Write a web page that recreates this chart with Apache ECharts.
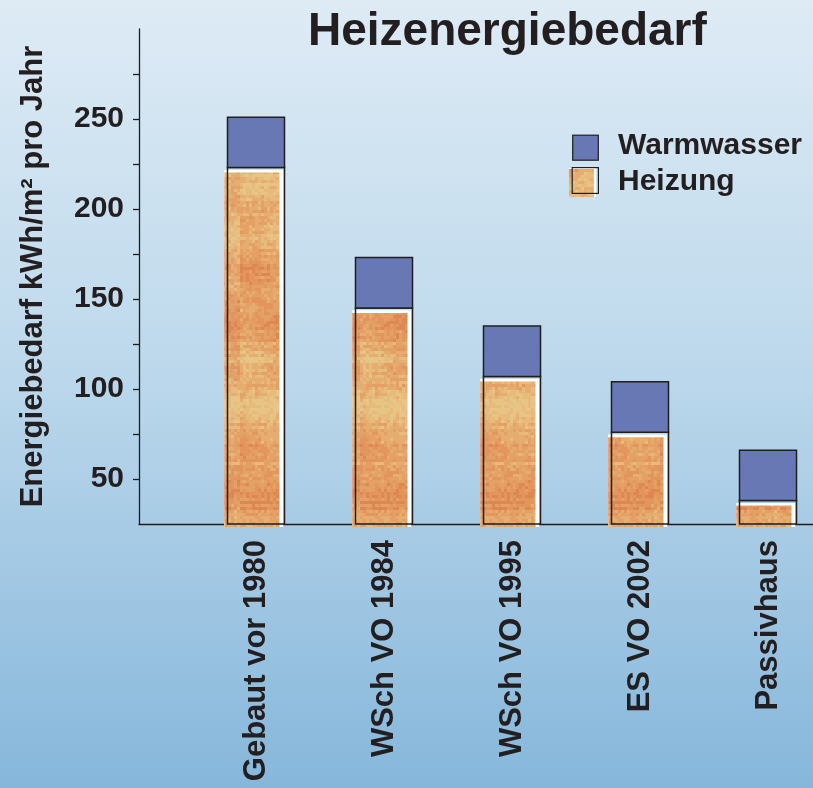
<!DOCTYPE html>
<html>
<head>
<meta charset="utf-8">
<title>Heizenergiebedarf</title>
<script src="https://cdn.jsdelivr.net/npm/echarts@6.0.0/dist/echarts.min.js"></script>
<style>
  html, body { margin: 0; padding: 0; }
  #chart { width: 813px; height: 788px; }
</style>
</head>
<body>
<div id="chart"></div>
<script>
// Kategorien und Werte (kWh/m² pro Jahr)
const categories = ['Gebaut vor 1980', 'WSch VO 1984', 'WSch VO 1995', 'ES VO 2002', 'Passivhaus'];
const heizung = [223, 145, 107, 76, 38];
const warmwasser = [28, 28, 28, 28, 28];
// Achsenstriche / Beschriftungen
const tickValues = [50, 75, 100, 125, 150, 175, 200, 225, 250, 275];
const labelValues = [50, 100, 150, 200, 250];

const Y_MIN = 25, Y_MAX = 300;
const BAR_WIDTH = 57;
const FONT = '"Liberation Sans", Arial, sans-serif';
const TEXT_COLOR = '#231f20';
const BLUE = '#6878b4';
const EDGE = '#1e1e1e';

// Struktur-Textur (Holzoptik) fuer Heizung
function hash(a, b) {
  const n = Math.sin(a * 12.9898 + b * 78.233) * 43758.5453;
  return n - Math.floor(n);
}
function makeTexture(w, h) {
  const c = document.createElement('canvas');
  c.width = w; c.height = h;
  const ctx = c.getContext('2d');
  const palette = ['#dd8753', '#e2955d', '#e4a166', '#e6ad70', '#e6bb7c', '#e7c585'];
  const s = 3;
  for (let by = 0; by < h / s; by++) {
    const row = hash(7, by) - 0.5;
    for (let bx = 0; bx < w / s; bx++) {
      let t = 0.5
        + 0.22 * Math.sin(by * 0.11 + 0.9 * Math.sin(bx * 0.13 + by * 0.02))
        + 0.12 * Math.sin(by * 0.33 + bx * 0.07)
        + 0.2 * row
        + 0.38 * (hash(bx, by) - 0.5);
      t = Math.max(0, Math.min(0.999, t));
      ctx.fillStyle = palette[Math.floor(t * palette.length)];
      ctx.fillRect(bx * s, by * s, s, s);
    }
  }
  return c;
}
const texture = makeTexture(60, 600);

// Legenden-Symbole
function warmIcon() {
  const c = document.createElement('canvas');
  c.width = 30; c.height = 30;
  const ctx = c.getContext('2d');
  ctx.fillStyle = BLUE;
  ctx.fillRect(3.7, 4.2, 25.6, 25);
  ctx.strokeStyle = EDGE; ctx.lineWidth = 1.2;
  ctx.strokeRect(3.7, 4.2, 25.6, 25);
  return 'image://' + c.toDataURL();
}
function heizIcon() {
  const c = document.createElement('canvas');
  c.width = 30; c.height = 30;
  const ctx = c.getContext('2d');
  ctx.fillStyle = '#fff';
  ctx.fillRect(0, 1, 27, 29);
  ctx.drawImage(texture, 0, 0, 25, 28, 0, 2, 25, 28);
  ctx.strokeStyle = EDGE; ctx.lineWidth = 1.2;
  ctx.strokeRect(3.2, 0.6, 26.2, 25.8);
  return 'image://' + c.toDataURL();
}

function renderHeizung(params, api) {
  const idx = api.value(0);
  const top = api.coord([idx, api.value(1)]);
  const base = api.coord([idx, Y_MIN]);
  const L = top[0] - BAR_WIDTH / 2, R = top[0] + BAR_WIDTH / 2;
  const T = top[1], B = base[1];
  return {
    type: 'group',
    children: [
      { type: 'rect', shape: { x: L - 3.3, y: T + 2.3, width: R - L + 2, height: B - T + 0.7 }, style: { fill: '#ffffff' } },
      { type: 'rect', shape: { x: L - 3.3, y: T + 5, width: R - L - 1.7, height: B - T - 2 }, style: { fill: { image: texture, repeat: 'repeat' } } },
      { type: 'rect', shape: { x: L, y: T, width: BAR_WIDTH, height: B - T }, style: { fill: 'none', stroke: EDGE, lineWidth: 1.5 } }
    ]
  };
}

function renderWarm(params, api) {
  const idx = api.value(0);
  const lo = api.coord([idx, api.value(1)]);
  const hi = api.coord([idx, api.value(2)]);
  return {
    type: 'rect',
    shape: { x: lo[0] - BAR_WIDTH / 2, y: hi[1], width: BAR_WIDTH, height: lo[1] - hi[1] },
    style: { fill: BLUE, stroke: EDGE, lineWidth: 1.5 }
  };
}

const chart = echarts.init(document.getElementById('chart'));
const option = {
  backgroundColor: {
    type: 'linear', x: 0, y: 0, x2: 0, y2: 1,
    colorStops: [
      { offset: 0, color: '#deebf5' },
      { offset: 0.45, color: '#bed9ec' },
      { offset: 1, color: '#86b7db' }
    ]
  },
  animation: false,
  title: {
    text: 'Heizenergiebedarf',
    left: 308,
    top: 9,
    padding: 0,
    textStyle: { fontFamily: FONT, fontSize: 46, fontWeight: 'bold', color: TEXT_COLOR }
  },
  legend: {
    orient: 'vertical',
    left: 569,
    top: 131,
    padding: 0,
    itemWidth: 30,
    itemHeight: 30,
    itemGap: 6,
    selectedMode: false,
    textStyle: { fontFamily: FONT, fontSize: 30, fontWeight: 'bold', color: TEXT_COLOR, padding: [0, 0, 0, 14] },
    data: [
      { name: 'Warmwasser', icon: warmIcon() },
      { name: 'Heizung', icon: heizIcon() }
    ]
  },
  grid: [
    { left: 139, right: 0, top: 29, bottom: 264, outerBoundsMode: 'none' },
    { left: 192, right: -19, top: 29, bottom: 264, outerBoundsMode: 'none' }
  ],
  xAxis: [
    {
      gridIndex: 0, type: 'value', min: 0, max: 1,
      axisLine: { show: true, onZero: false, lineStyle: { color: EDGE, width: 1.3 } },
      axisTick: { show: false }, axisLabel: { show: false }, splitLine: { show: false }
    },
    {
      gridIndex: 1, type: 'category', data: categories,
      axisLine: { show: false }, axisTick: { show: false },
      axisLabel: { rotate: 90, margin: 16, fontFamily: FONT, fontSize: 31, fontWeight: 'bold', color: TEXT_COLOR }
    }
  ],
  yAxis: [
    {
      gridIndex: 0, type: 'value', min: Y_MIN, max: Y_MAX, interval: 25,
      name: 'Energiebedarf kWh/m² pro Jahr',
      nameLocation: 'middle', nameRotate: 90, nameGap: 90, nameMoveOverlap: false,
      nameTextStyle: { fontFamily: FONT, fontSize: 31, fontWeight: 'bold', color: TEXT_COLOR },
      axisLine: { show: true, onZero: false, lineStyle: { color: EDGE, width: 1.3 } },
      axisTick: { show: true, length: 6, customValues: tickValues, lineStyle: { color: EDGE, width: 1.3 } },
      axisLabel: { customValues: labelValues, margin: 15, fontFamily: FONT, fontSize: 30, fontWeight: 'bold', color: TEXT_COLOR },
      splitLine: { show: false }
    },
    { gridIndex: 1, type: 'value', min: Y_MIN, max: Y_MAX, show: false, splitLine: { show: false } }
  ],
  series: [
    {
      name: 'Warmwasser', type: 'custom', xAxisIndex: 1, yAxisIndex: 1, z: 3,
      renderItem: renderWarm,
      encode: { x: 0, y: [1, 2] },
      data: categories.map((c, i) => [i, heizung[i], heizung[i] + warmwasser[i]])
    },
    {
      name: 'Heizung', type: 'custom', xAxisIndex: 1, yAxisIndex: 1, z: 2,
      renderItem: renderHeizung,
      encode: { x: 0, y: 1 },
      data: categories.map((c, i) => [i, heizung[i]])
    }
  ]
};
chart.setOption(option);
</script>
</body>
</html>
